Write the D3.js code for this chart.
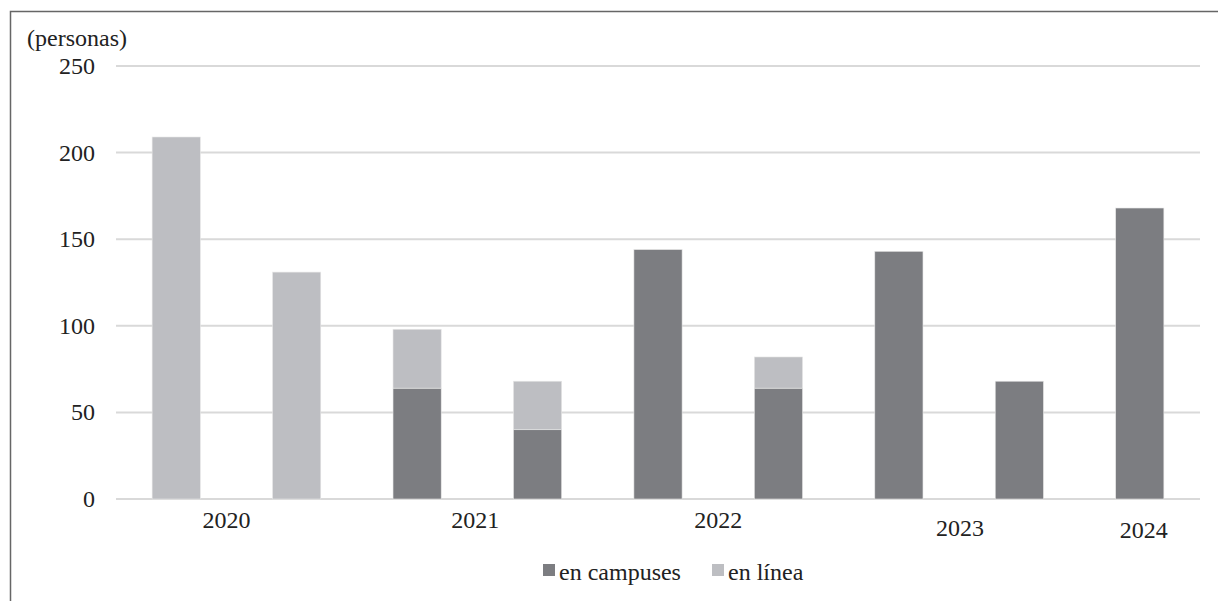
<!DOCTYPE html>
<html>
<head>
<meta charset="utf-8">
<script src="https://cdn.jsdelivr.net/npm/d3@7"></script>
<style>
  body { margin: 0; background: #fff; }
  text { font-family: "Liberation Serif", "Times New Roman", serif; fill: #222; }
</style>
</head>
<body>
<svg id="chart" width="1218" height="601"></svg>
<script>
// datos del gráfico
var bars = ['2020a', '2020b', '2021a', '2021b', '2022a', '2022b', '2023a', '2023b', '2024'];
var campus = [0, 0, 64, 40, 144, 64, 143, 68, 168];
var online = [209, 131, 34, 28, 0, 18, 0, 0, 0];
var years = ['2020', '2021', '2022', '2023', '2024'];
var yearBars = [[0, 1], [2, 3], [4, 5], [6, 7], [8, 8]];
var yTicks = [0, 50, 100, 150, 200, 250];
var seriesNames = ['en campuses', 'en línea'];

var colors = ['#7c7d81', '#bdbec2'];
var svg = d3.select('#chart');

// marco
svg.append('path')
  .attr('d', 'M10.5,601 V11.5 H1218')
  .attr('fill', 'none')
  .attr('stroke', '#666')
  .attr('stroke-width', 1.5);

var x = d3.scaleBand().domain(bars).range([116, 1200]).paddingInner(0.6).paddingOuter(0.3);
var y = d3.scaleLinear().domain([0, 250]).range([499, 66]);

// líneas de cuadrícula
svg.append('g')
  .selectAll('line')
  .data(yTicks)
  .enter()
  .append('line')
  .attr('x1', 116)
  .attr('x2', 1200)
  .attr('y1', function(d) { return y(d); })
  .attr('y2', function(d) { return y(d); })
  .attr('stroke', '#d9d9d9')
  .attr('stroke-width', 2);

// etiquetas del eje y
svg.append('g')
  .selectAll('text')
  .data(yTicks)
  .enter()
  .append('text')
  .attr('x', 95)
  .attr('y', function(d) { return y(d); })
  .attr('dy', '0.33em')
  .attr('text-anchor', 'end')
  .style('font-size', '24px')
  .text(function(d) { return d; });

svg.append('text')
  .attr('x', 27)
  .attr('y', 46)
  .style('font-size', '24px')
  .text('(personas)');

// barras apiladas
var stacked = d3.stack().keys([0, 1])(bars.map(function(b, i) {
  return { 0: campus[i], 1: online[i], key: b };
}));

svg.append('g')
  .selectAll('g')
  .data(stacked)
  .enter()
  .append('g')
  .attr('fill', function(d, i) { return colors[i]; })
  .selectAll('rect')
  .data(function(d) { return d; })
  .enter()
  .append('rect')
  .attr('x', function(d) { return x(d.data.key); })
  .attr('width', x.bandwidth())
  .attr('y', function(d) { return y(d[1]); })
  .attr('height', function(d) { return y(d[0]) - y(d[1]); })
  .attr('stroke', '#e6e6e6')
  .attr('stroke-width', 0.6);

// etiquetas de años
var yearDx = [-10, -2, 0, 1, 4];
var yearDy = [29, 29, 29, 37, 39];
svg.append('g')
  .selectAll('text')
  .data(years)
  .enter()
  .append('text')
  .attr('x', function(d, i) {
    var a = x(bars[yearBars[i][0]]), b = x(bars[yearBars[i][1]]);
    return (a + b) / 2 + x.bandwidth() / 2 + yearDx[i];
  })
  .attr('y', function(d, i) { return 499 + yearDy[i]; })
  .attr('text-anchor', 'middle')
  .style('font-size', '24px')
  .text(function(d) { return d; });

// leyenda
var legendX = [543, 712];
var legend = svg.append('g')
  .selectAll('g')
  .data(seriesNames)
  .enter()
  .append('g')
  .attr('transform', function(d, i) { return 'translate(' + legendX[i] + ',564)'; });

legend.append('rect')
  .attr('width', 12)
  .attr('height', 12)
  .attr('fill', function(d, i) { return colors[i]; });

legend.append('text')
  .attr('x', 16)
  .attr('y', 16)
  .style('font-size', '24px')
  .text(function(d) { return d; });
</script>
</body>
</html>
